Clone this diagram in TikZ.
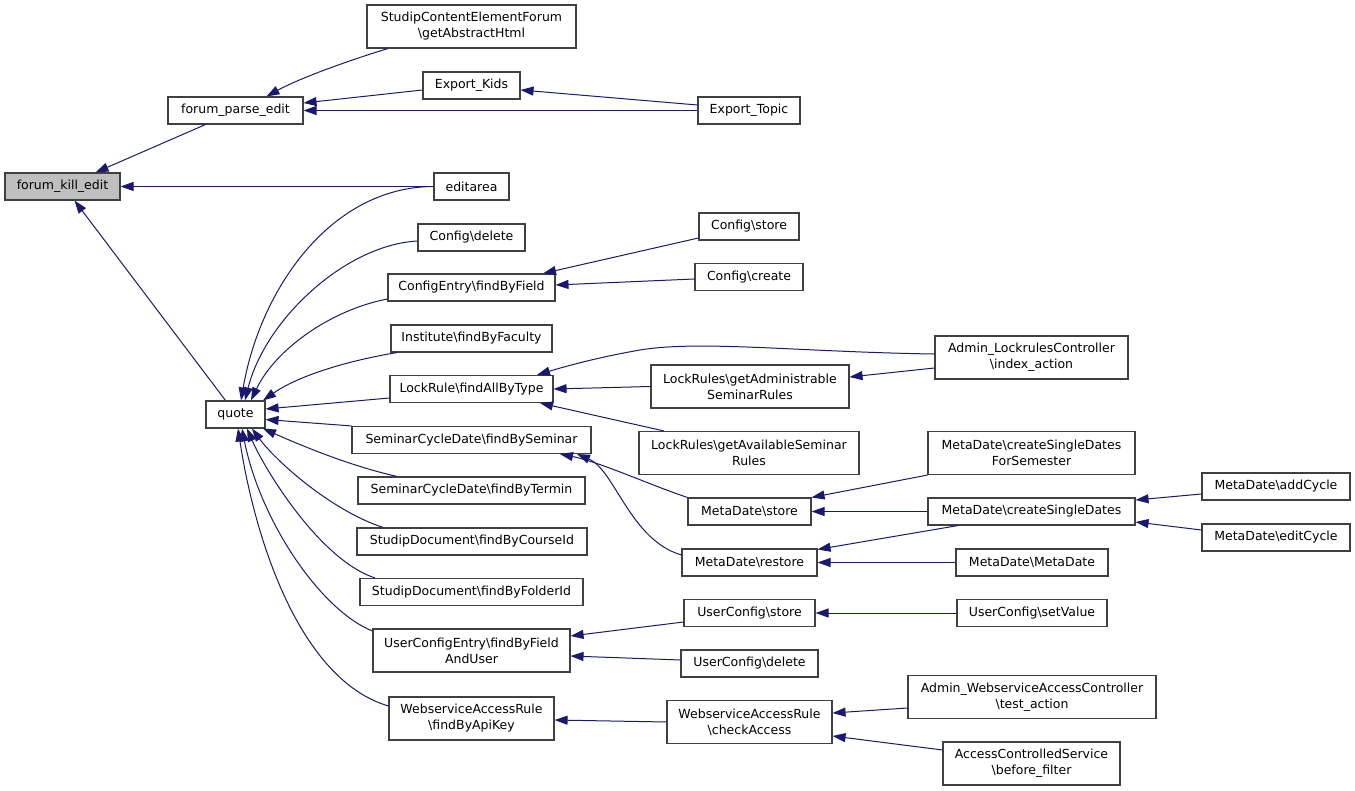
\documentclass[tikz,border=0pt]{standalone}
\usepackage{fontspec}
\setmainfont{DejaVu Sans}
\usetikzlibrary{arrows.meta}
\definecolor{edgeblue}{RGB}{25,25,112}
\definecolor{boxgray}{RGB}{191,191,191}
\tikzset{
  box/.style={draw=black!75, line width=1.1pt, fill=white, inner sep=0pt, align=center,
    minimum height=27pt, font=\fontsize{12.5}{16}\selectfont},
  tall/.style={minimum height=43pt},
  edge/.style={draw=edgeblue, line width=1pt, -{Triangle[length=13pt,width=9pt]}}
}
\newcommand{\bs}{\textbackslash}
\begin{document}
\begin{tikzpicture}[x=1pt,y=-1pt]
\useasboundingbox[fill=white] (0,0) rectangle (1355,791);
% nodes
\node[box,minimum width=115pt,fill=boxgray] (fke) at (62.5,186.5) {forum\_kill\_edit};
\node[box,minimum width=135pt] (fpe) at (235.5,110.5) {forum\_parse\_edit};
\node[box,tall,minimum width=209pt] (scef) at (471.5,26.5) {StudipContentElementForum\\\bs getAbstractHtml};
\node[box,minimum width=97pt] (ek) at (471.5,85.5) {Export\_Kids};
\node[box,minimum width=102pt] (et) at (749,110.5) {Export\_Topic};
\node[box,minimum width=75pt] (ea) at (471.5,186.5) {editarea};
\node[box,minimum width=107pt] (cdel) at (471.5,237.5) {Config\bs delete};
\node[box,minimum width=167pt] (cefbf) at (471.5,287.5) {ConfigEntry\bs findByField};
\node[box,minimum width=161pt] (ifbf) at (471.5,338.5) {Institute\bs findByFaculty};
\node[box,minimum width=163pt] (lrfabt) at (471.5,389) {LockRule\bs findAllByType};
\node[box,minimum width=59pt] (quote) at (235.5,414.5) {quote};
\node[box,minimum width=239pt] (scdfbs) at (471.5,440) {SeminarCycleDate\bs findBySeminar};
\node[box,minimum width=227pt] (scdfbt) at (471.5,490.5) {SeminarCycleDate\bs findByTermin};
\node[box,minimum width=230pt] (sdfbc) at (472,541.5) {StudipDocument\bs findByCourseId};
\node[box,minimum width=223pt] (sdfbf) at (471.5,592) {StudipDocument\bs findByFolderId};
\node[box,tall,minimum width=197pt] (ucef) at (471.5,650.5) {UserConfigEntry\bs findByField\\AndUser};
\node[box,tall,minimum width=165pt] (warfbak) at (471.5,718.5) {WebserviceAccessRule\\\bs findByApiKey};
\node[box,minimum width=100pt] (cstore) at (749,226.5) {Config\bs store};
\node[box,minimum width=108pt] (ccreate) at (749,277) {Config\bs create};
\node[box,tall,minimum width=198pt] (lrgasr) at (750,386.5) {LockRules\bs getAdministrable\\SeminarRules};
\node[box,tall,minimum width=220pt] (lrgavsr) at (749,453) {LockRules\bs getAvailableSeminar\\Rules};
\node[box,minimum width=123pt] (mdstore) at (749.5,511.5) {MetaDate\bs store};
\node[box,minimum width=135pt] (mdrestore) at (749.5,562.5) {MetaDate\bs restore};
\node[box,minimum width=131pt] (ucstore) at (749.5,613) {UserConfig\bs store};
\node[box,minimum width=137pt] (ucdelete) at (749.5,663.5) {UserConfig\bs delete};
\node[box,tall,minimum width=165pt] (warca) at (749.5,722) {WebserviceAccessRule\\\bs checkAccess};
\node[box,tall,minimum width=193pt] (alcia) at (1031.5,357.5) {Admin\_LockrulesController\\\bs index\_action};
\node[box,tall,minimum width=207pt] (mdcsdfs) at (1031.5,453) {MetaDate\bs createSingleDates\\ForSemester};
\node[box,minimum width=207pt] (mdcsd) at (1031.5,511.5) {MetaDate\bs createSingleDates};
\node[box,minimum width=152pt] (mdmd) at (1032,562.5) {MetaDate\bs MetaDate};
\node[box,minimum width=150pt] (ucsv) at (1032,613) {UserConfig\bs setValue};
\node[box,tall,minimum width=248pt] (awac) at (1032,697) {Admin\_WebserviceAccessController\\\bs test\_action};
\node[box,tall,minimum width=177pt] (acsbf) at (1031.5,763.5) {AccessControlledService\\\bs before\_filter};
\node[box,minimum width=148pt] (mdac) at (1276,486.5) {MetaDate\bs addCycle};
\node[box,minimum width=148pt] (mdec) at (1276,537.5) {MetaDate\bs editCycle};
% edges
\draw[edge] ([xshift=-30pt]fpe.south) -- ([xshift=33pt]fke.north);
\draw[edge] ([xshift=-83.5pt]scef.south) .. controls (350,60) and (300,78) .. ([xshift=31pt]fpe.north);
\draw[edge] ([yshift=-4.5pt]ek.west) -- ([yshift=7.5pt]fpe.east);
\draw[edge] (et.west) -- (fpe.east);
\draw[edge] ([yshift=5.5pt]et.west) -- ([yshift=-4.5pt]ek.east);
\draw[edge] (ea.west) -- (fke.east);
\draw[edge] ([xshift=-10pt]quote.north) -- ([xshift=12pt]fke.south);
% into quote
\draw[edge] (ea.west) .. controls (330,187) and (260,290) .. ([xshift=5.5pt]quote.north);
\draw[edge] ([yshift=-3.5pt]cdel.west) .. controls (345,245) and (265,320) .. ([xshift=9.5pt]quote.north);
\draw[edge] ([yshift=-11.5pt]cefbf.west) .. controls (330,310) and (275,350) .. ([xshift=15.5pt]quote.north);
\draw[edge] ([xshift=-74.5pt]ifbf.south) .. controls (340,362) and (295,378) .. ([xshift=27.5pt]quote.north);
\draw[edge] ([yshift=-9pt]lrfabt.west) -- ([yshift=5.5pt]quote.east);
\draw[edge] (scdfbs.north west) -- ([yshift=-5pt]quote.east);
\draw[edge] ([xshift=-74.5pt]scdfbt.north) .. controls (350,466) and (300,445) .. ([xshift=27.5pt]quote.south);
\draw[edge] ([xshift=-89pt]sdfbc.north) .. controls (330,510) and (275,460) .. ([xshift=16.5pt]quote.south);
\draw[edge] ([xshift=-96.5pt]sdfbf.north) .. controls (320,560) and (265,470) .. ([xshift=11.5pt]quote.south);
\draw[edge] ([yshift=19.5pt]ucef.west) .. controls (320,610) and (260,520) .. ([xshift=6.5pt]quote.south);
\draw[edge] ([yshift=12.5pt]warfbak.west) .. controls (300,680) and (255,540) .. ([xshift=2.5pt]quote.south);
% right part
\draw[edge] ([yshift=-11.5pt]cstore.west) -- ([xshift=71.5pt]cefbf.north);
\draw[edge] ([yshift=-2pt]ccreate.west) -- ([yshift=2.5pt]cefbf.east);
\draw[edge] ([yshift=3.5pt]alcia.west) .. controls (800,352) and (700,340) .. (640,350)
  .. controls (600,357) and (570,365) .. ([xshift=65.5pt]lrfabt.north);
\draw[edge] ([yshift=-10.5pt]alcia.west) -- ([yshift=9.5pt]lrgasr.east);
\draw[edge] (lrgasr.west) -- (lrfabt.east);
\draw[edge] ([xshift=-85pt]lrgavsr.north) -- ([xshift=68.5pt]lrfabt.south);
\draw[edge] (mdstore.north west) .. controls (650,485) and (600,462) .. ([xshift=88.5pt]scdfbs.south);
\draw[edge] ([yshift=7.5pt]mdrestore.west) .. controls (630,540) and (615,470) .. ([xshift=105.5pt]scdfbs.south);
\draw[edge] (mdcsdfs.south west) -- (mdstore.north east);
\draw[edge] (mdcsd.west) -- (mdstore.east);
\draw[edge] ([yshift=-7.5pt]mdac.west) -- ([yshift=11.5pt]mdcsd.east);
\draw[edge] ([yshift=7.5pt]mdec.west) -- ([yshift=-10.5pt]mdcsd.east);
\draw[edge] ([xshift=-73.5pt]mdcsd.south) -- ([yshift=-1pt]mdrestore.north east);
\draw[edge] (mdmd.west) -- (mdrestore.east);
\draw[edge] ([yshift=-9pt]ucstore.west) -- ([yshift=14.5pt]ucef.east);
\draw[edge] ([yshift=3.5pt]ucdelete.west) -- ([yshift=-5.5pt]ucef.east);
\draw[edge] (ucsv.west) -- (ucstore.east);
\draw[edge] (warca.west) -- ([yshift=-1.5pt]warfbak.east);
\draw[edge] ([yshift=-11pt]awac.west) -- ([yshift=9pt]warca.east);
\draw[edge] ([yshift=13.5pt]acsbf.west) -- ([yshift=-14pt]warca.east);
\end{tikzpicture}
\end{document}
